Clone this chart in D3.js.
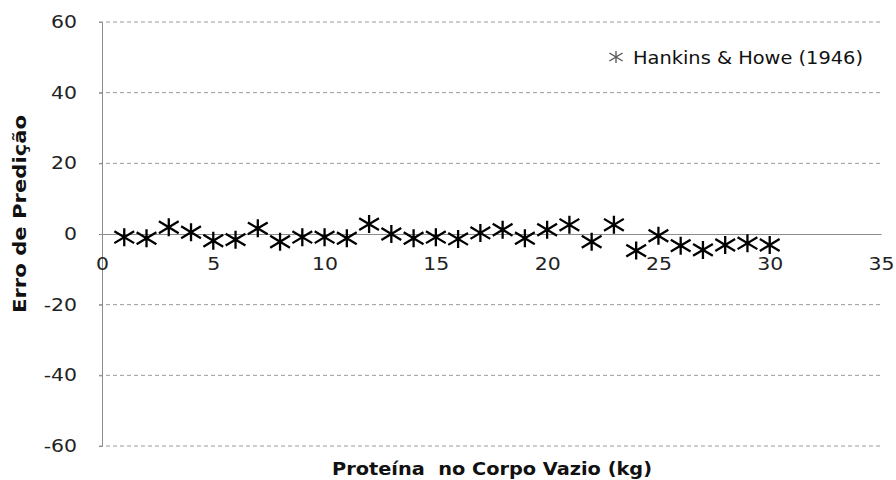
<!DOCTYPE html>
<html>
<head>
<meta charset="utf-8">
<script src="https://cdn.jsdelivr.net/npm/d3@7"></script>
<style>
  body { margin: 0; background: #fff; }
  text { font-family: "DejaVu Sans", sans-serif; }
</style>
</head>
<body>
<div id="chart"></div>
<script>
// data
const proteina = [1, 2, 3, 4, 5, 6, 7, 8, 9, 10, 11, 12, 13, 14, 15,
                  16, 17, 18, 19, 20, 21, 22, 23, 24, 25, 26, 27, 28, 29, 30];
const erro = [-0.9, -1.2, 1.9, 0.5, -1.9, -1.6, 1.6, -2.2, -0.9, -0.9,
              -1.2, 2.8, 0, -1.2, -0.9, -1.4, 0.3, 1.2, -1.2, 1.2,
              2.6, -2.2, 2.6, -4.7, -0.5, -3.3, -4.5, -3.1, -2.6, -3.1];
const xTicks = [0, 5, 10, 15, 20, 25, 30, 35];
const yTicks = [-60, -40, -20, 0, 20, 40, 60];
const seriesName = "Hankins & Howe (1946)";
const xTitle = "Proteína  no Corpo Vazio (kg)";
const yTitle = "Erro de Predição";

const W = 896, H = 480;
const margin = { top: 22, right: 15, bottom: 34, left: 102 },
    width = W - margin.left - margin.right,
    height = H - margin.top - margin.bottom;

const svg = d3.select("#chart")
    .append("svg")
    .attr("width", W)
    .attr("height", H)
    .append("g")
    .attr("transform", `translate(${margin.left},${margin.top})`);

const x = d3.scaleLinear().domain([0, 35]).range([0, width]);
const y = d3.scaleLinear().domain([-60, 60]).range([height, 0]);

// the original font is wider than DejaVu, stretch text a bit
function widen(sel, k) {
    sel.each(function () {
        const len = this.getComputedTextLength();
        d3.select(this)
            .attr("textLength", len * k)
            .attr("lengthAdjust", "spacingAndGlyphs");
    });
}

// dashed gridlines
svg.append("g")
    .selectAll("line")
    .data(yTicks.filter(d => d !== 0))
    .enter()
    .append("line")
    .attr("x1", -3)
    .attr("x2", width)
    .attr("y1", d => y(d))
    .attr("y2", d => y(d))
    .attr("stroke", "#9a9a9a")
    .attr("stroke-width", 1)
    .attr("stroke-dasharray", "4,3");

// y axis
const yAxis = svg.append("g")
    .call(d3.axisLeft(y).tickValues(yTicks).tickFormat(d => String(d))
        .tickSize(3).tickPadding(22));
yAxis.select(".domain").attr("stroke", "#8c8c8c");
yAxis.selectAll(".tick line").attr("stroke", "#8c8c8c");
yAxis.selectAll(".tick text")
    .attr("font-size", 17)
    .attr("fill", "#222")
    .call(widen, 1.2);

// x axis through zero
const xAxis = svg.append("g")
    .attr("transform", `translate(0,${y(0)})`)
    .call(d3.axisBottom(x).tickValues(xTicks).tickFormat(d => String(d))
        .tickSize(0).tickPadding(24));
xAxis.select(".domain").attr("stroke", "#8c8c8c");
xAxis.selectAll(".tick text")
    .attr("font-size", 17)
    .attr("fill", "#222")
    .call(widen, 1.2);

// star marker: vertical bar plus an X
function star(s) {
    const h = s * 0.5, w = s * 0.55, d = s * 0.33;
    return `M0,${-h}L0,${h}M${-w},${-d}L${w},${d}M${-w},${d}L${w},${-d}`;
}

svg.append("g")
    .selectAll("path")
    .data(proteina)
    .enter()
    .append("path")
    .attr("transform", (d, i) => `translate(${x(d)},${y(erro[i])})`)
    .attr("d", star(18))
    .attr("fill", "none")
    .attr("stroke", "#000")
    .attr("stroke-width", 2.3);

// legend
const legend = svg.append("g")
    .attr("transform", `translate(${514},${35})`);
legend.append("path")
    .attr("d", star(12))
    .attr("fill", "none")
    .attr("stroke", "#555")
    .attr("stroke-width", 1.3);
legend.append("text")
    .attr("x", 17)
    .attr("y", 7)
    .attr("font-size", 17)
    .attr("fill", "#111")
    .text(seriesName)
    .attr("textLength", 230)
    .attr("lengthAdjust", "spacingAndGlyphs");

// axis titles
svg.append("text")
    .attr("x", 390)
    .attr("y", height + 29)
    .attr("text-anchor", "middle")
    .attr("font-size", 17)
    .attr("font-weight", "bold")
    .attr("fill", "#111")
    .style("white-space", "pre")
    .text(xTitle)
    .attr("textLength", 320)
    .attr("lengthAdjust", "spacingAndGlyphs");

svg.append("text")
    .attr("transform", `translate(${-76},${y(0) - 20}) rotate(-90)`)
    .attr("text-anchor", "middle")
    .attr("font-size", 17)
    .attr("font-weight", "bold")
    .attr("fill", "#111")
    .text(yTitle)
    .attr("textLength", 198)
    .attr("lengthAdjust", "spacingAndGlyphs");
</script>
</body>
</html>
